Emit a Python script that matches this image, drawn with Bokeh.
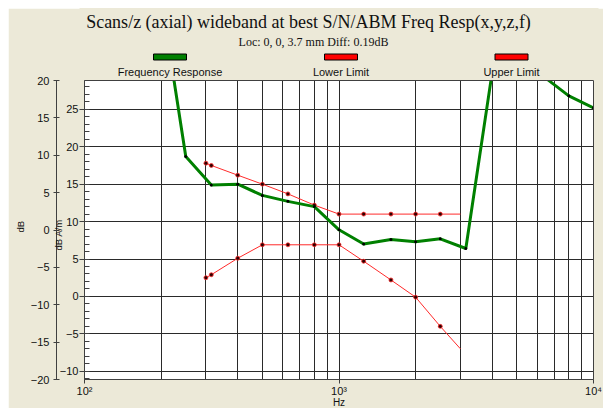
from bokeh.plotting import figure
from bokeh.models import (Range1d, LinearAxis, SingleIntervalTicker, FixedTicker, Title,
                          LinearScale)
from bokeh.embed import file_html
from bokeh.resources import INLINE
from bokeh.core.properties import value

# ---------------- data ----------------
title_text = "Scans/z (axial) wideband at best S/N/ABM Freq Resp(x,y,z,f)"
subtitle_text = "Loc: 0, 0, 3.7 mm Diff: 0.19dB"
series_names = ["Frequency Response", "Lower Limit", "Upper Limit"]
series_colors = ["#008000", "#ff0000", "#ff0000"]

freq_response_hz = [200, 250, 315, 400, 500, 630, 800, 1000, 1250, 1600,
                    2000, 2500, 3150, 4000, 5000, 6300, 8000, 10000]
freq_response_val = [40.0, 18.7, 14.9, 15.0, 13.5, 12.7, 12.0, 8.9, 7.0, 7.6,
                     7.3, 7.7, 6.4, 30.0, 31.0, 29.5, 26.8, 25.2]

limit_hz = [300, 315, 400, 500, 630, 800, 1000, 1250, 1600, 2000, 2500, 3000]
lower_limit_val = [2.5, 2.9, 5.1, 6.9, 6.9, 6.9, 6.9, 4.7, 2.2, -0.1, -4.0, -7.0]
upper_limit_val = [17.8, 17.5, 16.2, 15.0, 13.7, 12.2, 11.0, 11.0, 11.0, 11.0, 11.0, 11.0]

x_major_ticks = [100, 1000, 10000]
x_tick_labels = ["10\u00b2", "10\u00b3", "10\u2074"]
x_minor_ticks = [200, 300, 400, 500, 600, 700, 800, 900,
                 2000, 3000, 4000, 5000, 6000, 7000, 8000, 9000]
y_am_plot = (-11.1, 28.85)   # dB A/m (inner axis) over the plot box
y_db_plot = (-20.0, 20.0)    # dB (outer axis) over the plot box

# ---------------- layout (page pixels) ----------------
BG = "#ECE9D8"
GRID = "#2a2a2a"
TXT = "#111111"
AX = "#404040"
SANS = "Liberation Sans"
SERIF = "Liberation Serif"

CANVAS_X, CANVAS_Y = 8, 8            # white page margin of the reference
PLOT_L, PLOT_R = 84, 593             # plot box, page px
PLOT_T, PLOT_B = 80, 379
FRAME_T = CANVAS_Y                   # frame extends up to canvas top (header drawn inside)
FRAME_W = PLOT_R - PLOT_L
FRAME_H = PLOT_B - FRAME_T
PLOT_H = PLOT_B - PLOT_T
grow = FRAME_H / PLOT_H
y_am_frame = (y_am_plot[0], y_am_plot[0] + (y_am_plot[1] - y_am_plot[0]) * grow)
y_db_frame = (y_db_plot[0], y_db_plot[0] + (y_db_plot[1] - y_db_plot[0]) * grow)

p = figure(frame_width=FRAME_W, frame_height=FRAME_H, x_axis_type="log",
           x_range=Range1d(100, 10000), y_range=Range1d(*y_am_frame),
           toolbar_location=None, output_backend="svg",
           min_border_left=PLOT_L - CANVAS_X, min_border_right=10,
           min_border_top=0, min_border_bottom=29,
           background_fill_color="white", border_fill_color=BG,
           outline_line_color=None)
p.margin = (CANVAS_Y, 0, 0, CANVAS_X)
p.extra_y_ranges = {"db": Range1d(*y_db_frame), "py": Range1d(PLOT_B, FRAME_T)}
p.extra_x_ranges = {"px": Range1d(PLOT_L, PLOT_R)}
p.extra_x_scales = {"px": LinearScale()}

# ---- inner (dB A/m) axis ----
yax = p.yaxis[0]
yt = SingleIntervalTicker(interval=5, num_minor_ticks=5)
yax.ticker = yt
yax.bounds = y_am_plot
p.ygrid.ticker = yt
yax.major_tick_out = 5
yax.major_tick_in = 0
yax.minor_tick_in = 5
yax.minor_tick_out = 0
yax.major_label_standoff = 1
yax.major_label_text_font = SANS
yax.major_label_text_font_size = "11px"
yax.major_label_text_color = TXT
yax.axis_line_color = AX
yax.major_tick_line_color = AX
yax.minor_tick_line_color = AX

p.add_layout(Title(text="dB A/m", align="left", offset=129, standoff=-14.6,
                   text_font=SANS, text_font_size="9.5px", text_font_style="normal",
                   text_color=TXT), "left")

spacer = LinearAxis(y_range_name="db", ticker=FixedTicker(ticks=[]),
                    major_tick_out=12, major_tick_in=0, minor_tick_out=0, minor_tick_in=0,
                    major_label_standoff=0, axis_line_color=None,
                    major_tick_line_color=None, minor_tick_line_color=None)
p.add_layout(spacer, "left")

# ---- outer (dB) axis ----
dax = LinearAxis(y_range_name="db", bounds=y_db_plot,
                 ticker=SingleIntervalTicker(interval=5, num_minor_ticks=0))
dax.major_tick_in = 3
dax.major_tick_out = 3
dax.minor_tick_line_color = None
dax.major_label_standoff = 4
dax.major_label_text_font = SANS
dax.major_label_text_font_size = "11px"
dax.major_label_text_color = TXT
dax.axis_line_color = AX
dax.major_tick_line_color = AX
p.add_layout(dax, "left")

p.add_layout(Title(text="dB", align="left", offset=147, standoff=0, vertical_align="top",
                   text_font=SANS, text_font_size="9.5px", text_font_style="normal",
                   text_color=TXT), "left")

# ---- x axis ----
xt = FixedTicker(ticks=x_major_ticks, minor_ticks=x_minor_ticks)
p.xaxis.ticker = xt
p.xgrid.ticker = xt
p.xaxis.major_label_overrides = dict(zip(x_major_ticks, x_tick_labels))
p.xaxis.major_tick_out = 4
p.xaxis.major_tick_in = 0
p.xaxis.minor_tick_line_color = None
p.xaxis.major_label_standoff = 1
p.xaxis.major_label_text_font = SANS
p.xaxis.major_label_text_font_size = "11px"
p.xaxis.major_label_text_color = TXT
p.xaxis.axis_line_color = AX
p.xaxis.major_tick_line_color = AX
p.xaxis.axis_label = "Hz"
p.xaxis.axis_label_standoff = -3
p.xaxis.axis_label_text_font = SANS
p.xaxis.axis_label_text_font_size = "10px"
p.xaxis.axis_label_text_font_style = "normal"
p.xaxis.axis_label_text_color = TXT

# ---- grids ----
p.xgrid.grid_line_color = GRID
p.xgrid.minor_grid_line_color = GRID
p.ygrid.grid_line_color = GRID

# ---- series ----
p.line(limit_hz, upper_limit_val, line_color="#ff2a2a", line_width=1)
p.line(limit_hz, lower_limit_val, line_color="#ff2a2a", line_width=1)
p.scatter(limit_hz[:-1], upper_limit_val[:-1], size=4, fill_color="#300000",
          line_color="#ff3030", line_width=0.8)
p.scatter(limit_hz[:-1], lower_limit_val[:-1], size=4, fill_color="#300000",
          line_color="#ff3030", line_width=0.8)
p.line(freq_response_hz, freq_response_val, line_color="#008000", line_width=3)
p.scatter(freq_response_hz, freq_response_val, size=3, fill_color="#000000",
          line_color=None)

# ---- header area (inside the frame, above the plot box) ----
hdr = dict(x_range_name="px", y_range_name="py", level="overlay")
p.quad(left=[PLOT_L - 5], right=[PLOT_R + 5], top=[FRAME_T - 2], bottom=[PLOT_T - 0.5],
       fill_color=BG, line_color=None, **hdr)
p.quad(left=[100], right=[10000], bottom=[y_am_plot[0]], top=[y_am_plot[1]],
       fill_color=None, line_color=AX, line_width=1, level="overlay")

p.text(x=[308], y=[21.5], text=[title_text], text_font=value(SERIF),
       text_font_size="18px", text_align="center", text_baseline="middle",
       text_color=TXT, **hdr)
p.text(x=[313], y=[41.5], text=[subtitle_text], text_font=value(SERIF),
       text_font_size="12px", text_align="center", text_baseline="middle",
       text_color=TXT, **hdr)

leg_cx = [169.5, 340.5, 511]
p.quad(left=[c - 16.5 for c in leg_cx], right=[c + 16.5 for c in leg_cx],
       top=[53.5] * 3, bottom=[59.5] * 3,
       fill_color=series_colors, line_color="#000000", line_width=1, **hdr)
p.text(x=leg_cx, y=[71.5] * 3, text=series_names, text_font=value(SANS),
       text_font_size="11px", text_align="center", text_baseline="middle",
       text_color=TXT, **hdr)

open("out.html", "w").write(file_html(p, INLINE))
